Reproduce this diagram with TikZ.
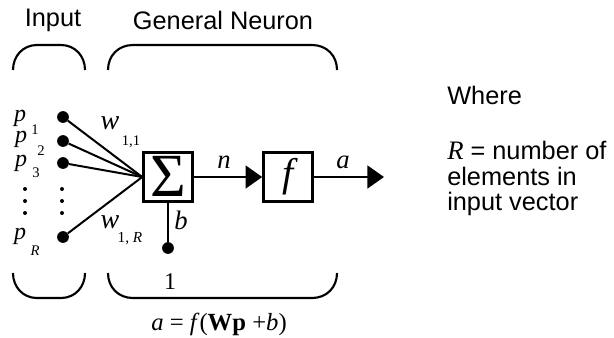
\documentclass[tikz,border=0pt]{standalone}
\usepackage{fontspec}
\setmainfont{Liberation Serif}
\newfontfamily\hv{Liberation Sans}
\usetikzlibrary{arrows.meta}
\begin{document}
\begin{tikzpicture}[x=0.75pt,y=-0.75pt,
  sans/.style={font=\hv\fontsize{19}{19}\selectfont, inner sep=0},
  it/.style={font=\fontsize{20}{22}\selectfont\itshape, inner sep=0},
  pit/.style={font=\fontsize{18}{20}\selectfont\itshape, inner sep=0},
  wit/.style={font=\fontsize{21}{24}\selectfont\itshape, inner sep=0},
  sub/.style={font=\fontsize{11}{12}\selectfont, inner sep=0},
  dot/.style={circle, fill, inner sep=0, minimum size=8.8pt},
  sdot/.style={circle, fill, inner sep=0, minimum size=3pt},
  blk/.style={draw, line width=2.2pt, minimum size=36.5pt, inner sep=0, fill=white},
  wire/.style={line width=1.5pt},
  sig/.style={line width=2.2pt, -{Triangle[length=12.5pt,width=17pt]}},
  brace/.style={line width=1.6pt}]
\useasboundingbox (0,0) rectangle (614,337);
% headings
\node[sans] (tin) at (53,20) {Input};
\node[sans] (tgn) at (223,20) {General Neuron};
% braces
\draw[brace] (13,70) .. controls (13,56) and (23,45) .. (37,45) -- (61,45) .. controls (75,45) and (85,56) .. (85,70);
\draw[brace] (108,70) .. controls (108,56) and (118,45) .. (133,45) -- (312,45) .. controls (327,45) and (337,56) .. (337,70);
\draw[brace] (13,273) .. controls (13,287) and (23,298) .. (37,298) -- (61,298) .. controls (75,298) and (85,287) .. (85,273);
\draw[brace] (108,273) .. controls (108,287) and (118,298) .. (133,298) -- (312,298) .. controls (327,298) and (337,287) .. (337,273);
% input dots
\node[dot] (d1) at (63,117) {};
\node[dot] (d2) at (63,141) {};
\node[dot] (d3) at (63,163) {};
\node[dot] (dR) at (63,237) {};
\foreach \yy [count=\i] in {189,201,213} {
  \node[sdot] (va\i) at (25,\yy) {};
  \node[sdot] (vb\i) at (62,\yy) {};
}
% p labels
\node[pit] (p1) at (20,118) {p};
\node[sub] (s1) at (35,130) {1};
\node[pit] (p2) at (21,139.5) {p};
\node[sub] (s2) at (41,151) {2};
\node[pit] (p3) at (21,163) {p};
\node[sub] (s3) at (36,173) {3};
\node[pit] (pR) at (20,236) {p};
\node[sub,font=\fontsize{11}{12}\selectfont\itshape] (sR) at (35,251) {R};
% blocks
\node[blk, font=\fontsize{46}{48}\selectfont] (S) at (168,177) {\raisebox{1.5pt}{Σ}};
\node[blk, font=\fontsize{30}{32}\selectfont\itshape] (F) at (288,177) {f};
% weights
\foreach \d in {d1,d2,d3,dR} \draw[wire] (\d) -- (S.west);
\node[wit] (w1) at (110,123) {w};
\node[sub] (w1s) at (131,142) {1,1};
\node[wit] (wR) at (110,222) {w};
\node[sub,font=\fontsize{11.5}{12}\selectfont] (wRs) at (130,239) {1, \textit{R}};
% bias
\node[dot] (B) at (168,248) {};
\draw[wire] (B) -- (S.south);
\node[it] (bl) at (181,220) {b};
\node[font=\fontsize{18}{20}\selectfont, inner sep=0] (one) at (170,282) {1};
% signals
\draw[sig] (S.east) -- (F.west);
\node[it] (nl) at (224,162) {n};
\coordinate (out) at (384,177);
\draw[sig] (F.east) -- (out);
\node[it] (al) at (343,162) {a};
% formula
\node[font=\fontsize{18.5}{20}\selectfont, inner sep=0] (eq) at (219,324) {\textit{a} = \textit{f}(\textbf{Wp} +\textit{b})};
% where text
\node[sans, anchor=west] (wh) at (447,95) {Where};
\node[sans, anchor=north west, align=left, font=\hv\fontsize{19}{19.2}\selectfont] (rdef) at (447,141)
  {{\rmfamily\itshape\fontsize{20}{19.2}\selectfont R} = number of\\elements in\\input vector};
\end{tikzpicture}
\end{document}
